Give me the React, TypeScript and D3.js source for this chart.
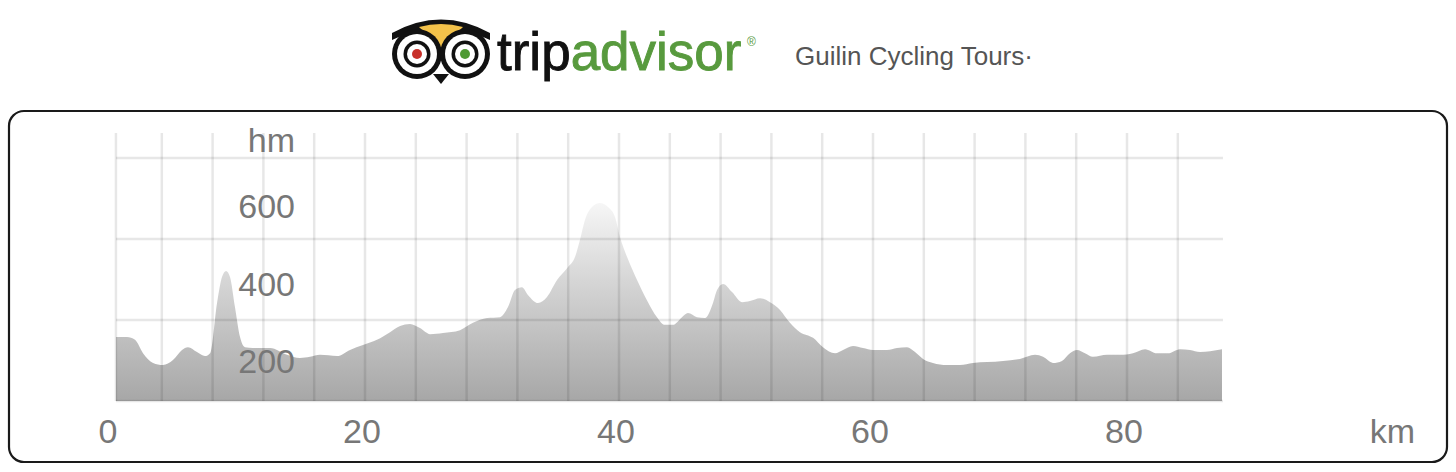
import React from "react";
import * as d3 from "d3";

// ---- data ----
const distanceKm = [
  0.39, 1.26, 1.89, 2.52, 3.31, 4.09, 4.88, 5.59, 6.06, 6.77, 7.4, 7.8, 8.35, 8.74, 9.06, 9.37,
  9.76, 10.16, 10.55, 11.18, 12.52, 13.86, 14.88, 15.67, 16.46, 17.8, 18.82, 19.84, 20.94,
  21.97, 22.76, 23.54, 24.33, 25.12, 26.14, 27.48, 28.5, 29.61, 30.63, 31.26, 31.81, 32.36,
  32.83, 33.62, 34.33, 35.12, 35.91, 36.54, 36.93, 37.32, 37.87, 38.5, 39.13, 39.69, 40.08,
  40.63, 41.42, 42.2, 42.99, 43.62, 44.25, 44.96, 45.43, 46.14, 46.77, 47.4, 47.72, 48.19,
  48.9, 49.69, 50.31, 51.1, 51.89, 52.68, 53.46, 54.25, 55.28, 56.06, 57.01, 57.64, 58.43,
  59.21, 60.0, 61.1, 61.89, 62.68, 63.31, 63.94, 64.72, 65.83, 66.85, 67.87, 68.98, 70.24,
  71.57, 72.76, 73.39, 74.17, 74.88, 75.51, 76.06, 76.69, 77.32, 78.43, 79.45, 80.47, 81.42,
  82.36, 83.23, 84.17, 84.96, 85.75, 86.54, 87.48,
];
const elevationM = [
  258, 258, 251, 218, 194, 189, 201, 226, 233, 221, 211, 218, 342, 406, 421, 406, 332, 258,
  233, 231, 231, 214, 206, 209, 214, 211, 226, 238, 251, 270, 285, 290, 280,
  265, 268, 275, 293, 305, 307, 332, 374, 381, 362, 342, 357, 399, 428, 456,
  498, 547, 579, 589, 579, 554, 505, 456, 399, 349, 307, 288, 288, 307, 317,
  307, 305, 342, 374, 389, 369, 344, 347, 354, 344, 325, 293, 270, 256, 233,
  218, 226, 236, 231, 226, 226, 231, 233, 221, 204, 194, 189, 189, 194, 196,
  199, 204, 214, 209, 194, 199, 218, 226, 218, 209, 214, 214, 218, 228, 218,
  218, 228, 226, 221, 223, 228,
];
const xTickLabels = [0, 20, 40, 60, 80];
const yTickLabels = [200, 400, 600];
const gridElevations = [100, 300, 500, 700];
const gridStepKm = 4;
const xUnit = "km";
const yUnit = "hm";
const brandDark = "trip";
const brandGreen = "advisor";
const subtitle = "Guilin Cycling Tours·";

const FONT = "'Liberation Sans', Arial, Helvetica, sans-serif";

export default function App() {
  const data = distanceKm.map((km, i) => ({ km, m: elevationM[i] }));
  const minKm = distanceKm[0];
  const maxKm = distanceKm[distanceKm.length - 1];

  const x = d3.scaleLinear().domain([0, 80]).range([111, 1127]);
  const y = d3.scaleLinear().domain([100, 700]).range([401, 158]);
  const yLabel = d3.scaleLinear().domain([200, 600]).range([373, 218]);

  const area = d3
    .area<{ km: number; m: number }>()
    .x((d) => x(d.km))
    .y0(y(100))
    .y1((d) => y(d.m))
    .curve(d3.curveMonotoneX);

  const gridKm = [minKm, ...d3.range(gridStepKm, maxKm, gridStepKm)];
  const gridColor = "rgba(0,0,0,0.095)";

  return (
    <svg
      width={1456}
      height={472}
      style={{ position: "absolute", left: 0, top: 0, background: "#fff" }}
      fontFamily={FONT}
    >
      <defs>
        <linearGradient id="profileGrad" gradientUnits="userSpaceOnUse" x1="0" y1={y(600)} x2="0" y2={y(100)}>
          <stop offset="0%" stopColor="#f8f8f8" />
          <stop offset="45%" stopColor="#d2d2d2" />
          <stop offset="100%" stopColor="#a7a7a7" />
        </linearGradient>
      </defs>

      {/* header: owl logo */}
      <g>
        <path d="M392,33 Q441,6 490,33 L490,40 Q441,16 392,40 Z" fill="#111" />
        <path d="M419,27 Q441,21 463,27 L441,48 Z" fill="#f3c24a" />
        <circle cx={417} cy={54} r={25} fill="#111" />
        <circle cx={465} cy={54} r={25} fill="#111" />
        <circle cx={417} cy={54} r={20} fill="#fff" />
        <circle cx={465} cy={54} r={20} fill="#fff" />
        <circle cx={417} cy={54} r={13.5} fill="#111" />
        <circle cx={465} cy={54} r={13.5} fill="#111" />
        <circle cx={417} cy={54} r={10} fill="#fff" />
        <circle cx={465} cy={54} r={10} fill="#fff" />
        <circle cx={417} cy={54} r={5} fill="#c8302a" />
        <circle cx={465} cy={54} r={5} fill="#4f9a34" />
        <path d="M433,74 L449,74 L441,84 Z" fill="#111" />
      </g>
      <text x={497} y={70} fontSize={53} fontFamily={FONT} strokeWidth={0.9}>
        <tspan fill="#111" stroke="#111">{brandDark}</tspan>
        <tspan fill="#589a3e" stroke="#589a3e">{brandGreen}</tspan>
      </text>
      <text x={747} y={46} fontSize={12} fill="#589a3e" fontFamily={FONT}>®</text>
      <text x={795} y={65} fontSize={26} fill="#555" fontFamily={FONT}>
        {subtitle}
      </text>

      {/* frame */}
      <rect x={9} y={111} width={1438} height={351} rx={15} ry={15} fill="#fff" stroke="#1a1a1a" strokeWidth={2.2} />

      {/* profile */}
      <path d={area(data) || ""} fill="url(#profileGrad)" />

      {/* grid on top */}
      {gridKm.map((k) => (
        <line key={"v" + k} x1={x(k)} x2={x(k)} y1={133} y2={y(100)} stroke={gridColor} strokeWidth={2.5} />
      ))}
      {gridElevations.map((v) => (
        <line key={"h" + v} x1={x(minKm)} x2={x(maxKm) + 1} y1={y(v)} y2={y(v)} stroke={gridColor} strokeWidth={2.5} />
      ))}

      {/* y labels */}
      <text x={295} y={152} fontSize={34} fill="#777" textAnchor="end">
        {yUnit}
      </text>
      {yTickLabels.map((v) => (
        <text key={"yl" + v} x={295} y={yLabel(v)} fontSize={34} fill="#777" textAnchor="end">
          {v}
        </text>
      ))}

      {/* x labels */}
      {xTickLabels.map((k) => (
        <text key={"xl" + k} x={x(k) - 3} y={443} fontSize={34} fill="#777" textAnchor="middle">
          {k}
        </text>
      ))}
      <text x={1415} y={443} fontSize={34} fill="#777" textAnchor="end">
        {xUnit}
      </text>
    </svg>
  );
}
